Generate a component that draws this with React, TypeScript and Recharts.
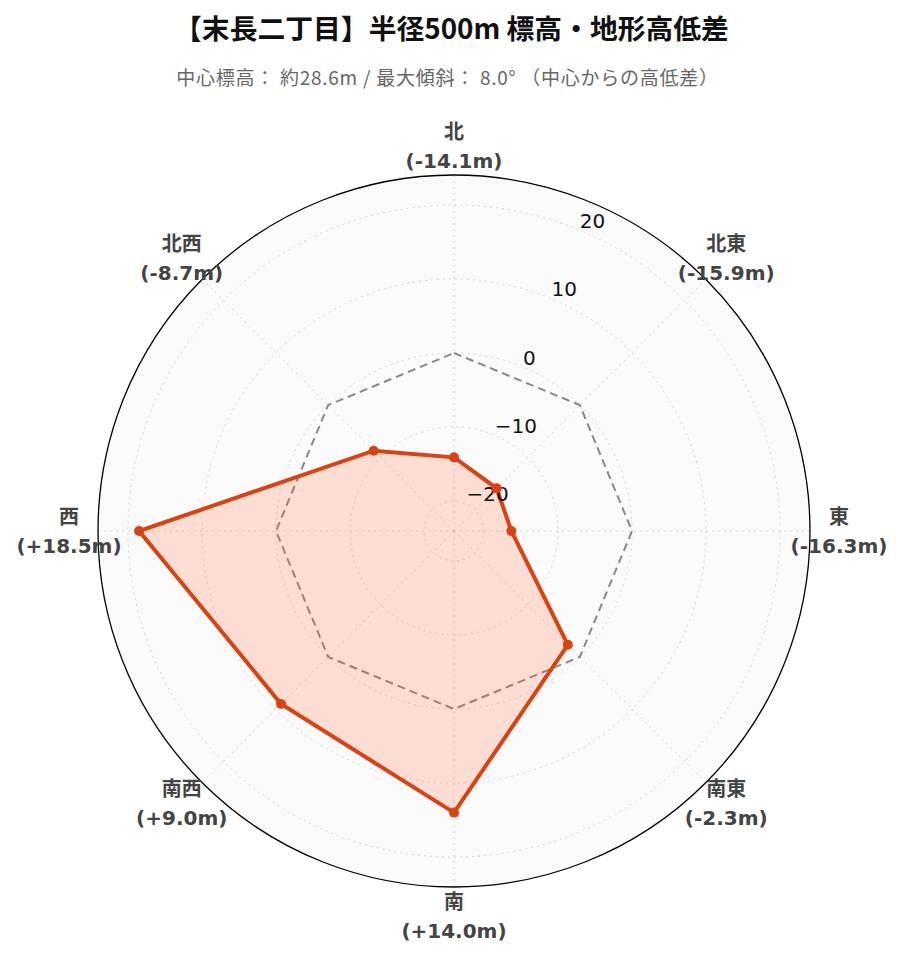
import React from 'react';
import { RadarChart, Radar, PolarGrid, PolarAngleAxis, PolarRadiusAxis } from 'recharts';

const directions = ['北', '北東', '東', '南東', '南', '南西', '西', '北西'];
const elevationDiff = [-14.1, -15.9, -16.3, -2.3, 14.0, 9.0, 18.5, -8.7];
const zeroLine = [0, 0, 0, 0, 0, 0, 0, 0];
const radiusTicks = [-20, -10, 0, 10, 20];
const radiusDomain = [-24.05, 24.05];

const data = directions.map((dir, i) => ({
    dir,
    diff: elevationDiff[i],
    zero: zeroLine[i],
}));

const W = 903;
const H = 962;
const CX = 454;
const CY = 531;
const R = 356;
const FONT = "'DejaVu Sans', 'Noto Sans CJK JP', sans-serif";
const CJK = "'Noto Sans CJK JP', sans-serif";

const fmtDiff = (v: number) => `(${v >= 0 ? '+' : '-'}${Math.abs(v).toFixed(1)}m)`;

const AngleTick = (props: any) => {
    const { payload, index } = props;
    const ang = (payload.coordinate * Math.PI) / 180;
    const rr = R + 29;
    const lx = CX + rr * Math.cos(ang);
    const ly = CY - rr * Math.sin(ang);
    const i = typeof index === 'number' ? index : directions.indexOf(payload.value);
    const st = { fontFamily: FONT, fontWeight: 'bold' as const, fontSize: 20 };
    return (
        <g>
            <text x={lx} y={ly - 14.5} textAnchor="middle" dominantBaseline="central" fill="#444" style={st}>
                {payload.value}
            </text>
            <text x={lx} y={ly + 14.5} textAnchor="middle" dominantBaseline="central" fill="#444" style={st}>
                {fmtDiff(elevationDiff[i])}
            </text>
        </g>
    );
};

const RadiusTick = (props: any) => {
    const { x, y, payload } = props;
    const v = payload.value;
    const txt = v < 0 ? `\u2212${Math.abs(v)}` : `${v}`;
    return (
        <text x={x + 1} y={y - 9} textAnchor="start" dominantBaseline="central" fill="#111"
            style={{ fontFamily: FONT, fontSize: 20 }}>
            {txt}
        </text>
    );
};

export default function App() {
    return (
        <div style={{ position: 'absolute', left: 0, top: 0, width: W, height: H, background: '#fff', fontFamily: CJK }}>
            <div style={{ position: 'absolute', left: 0, width: W, top: 7, textAlign: 'center', fontSize: 27.8, fontWeight: 'bold', color: '#111', lineHeight: '40px' }}>
                【末長二丁目】半径500m 標高・地形高低差
            </div>
            <div style={{ position: 'absolute', left: -4, width: W, top: 62, textAlign: 'center', fontSize: 19, letterSpacing: 0.75, color: '#666', lineHeight: '30px' }}>
                中心標高： 約28.6m / 最大傾斜： 8.0° （中心からの高低差）
            </div>
            <div style={{ position: 'absolute', left: CX - R, top: CY - R, width: R * 2, height: R * 2, borderRadius: '50%', background: '#fafafa' }} />
            <div style={{ position: 'absolute', left: 0, top: 0 }}>
                <RadarChart width={W} height={H} data={data} cx={CX} cy={CY} outerRadius={R} innerRadius={0}
                    startAngle={90} endAngle={-270} margin={{ top: 0, right: 0, bottom: 0, left: 0 }}>
                    <PolarGrid gridType="circle" stroke="#d6d6d6" strokeDasharray="2 4" />
                    <PolarGrid gridType="circle" polarRadius={[R]} radialLines={false} stroke="#000" strokeWidth={1.3} />
                    <PolarAngleAxis dataKey="dir" axisLine={false} tickLine={false} tick={AngleTick} />
                    <PolarRadiusAxis angle={67.5} domain={radiusDomain} ticks={radiusTicks} axisLine={false}
                        tickLine={false} tick={RadiusTick} />
                    <Radar dataKey="zero" stroke="#888" strokeWidth={2} strokeDasharray="8 5" fill="none"
                        dot={false} isAnimationActive={false} />
                    <Radar dataKey="diff" stroke="#d84315" strokeWidth={4} fill="#ff5722" fillOpacity={0.18}
                        dot={{ r: 5, fill: '#d84315', stroke: '#d84315', strokeWidth: 0, fillOpacity: 1 }}
                        isAnimationActive={false} />
                </RadarChart>
            </div>
        </div>
    );
}
